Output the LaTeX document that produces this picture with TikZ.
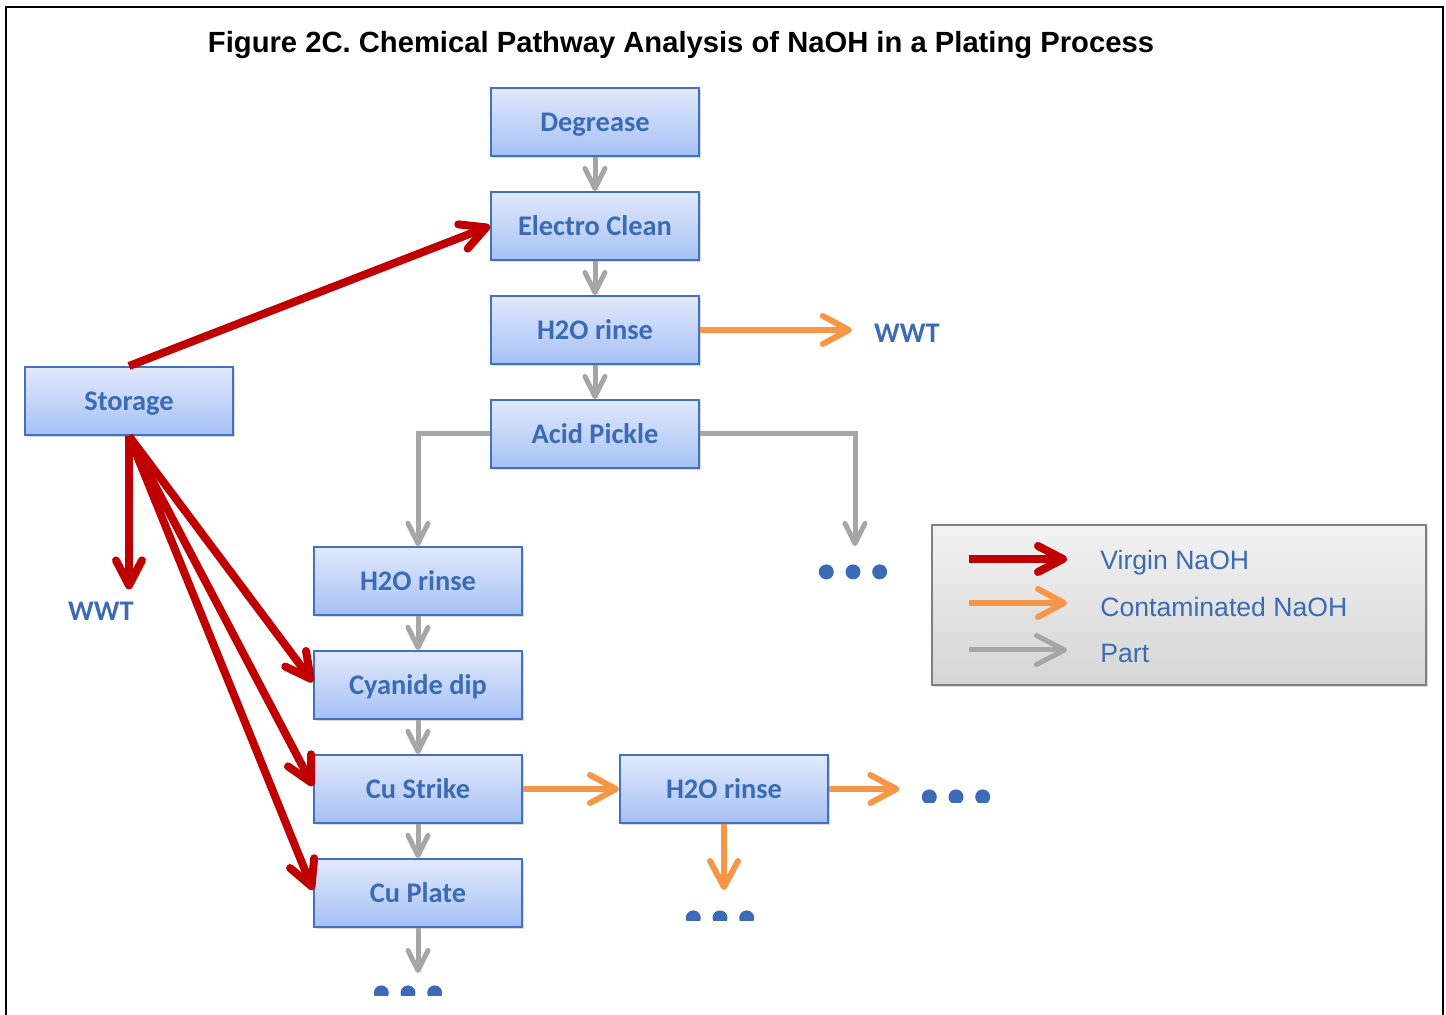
\documentclass[tikz,border=0pt]{standalone}
\usepackage{fontspec}
\setmainfont{Liberation Sans}
\newfontfamily\calibri{Carlito}
\usetikzlibrary{arrows.meta,shadows}
\definecolor{virgincol}{HTML}{C00000}
\definecolor{spentcol}{HTML}{F79646}
\definecolor{partcol}{HTML}{A6A6A6}
\definecolor{boxtop}{HTML}{E1E9FC}
\definecolor{boxbot}{HTML}{A6C1F5}
\definecolor{boxline}{HTML}{4370C0}
\definecolor{labelblue}{HTML}{3A6BB4}
\tikzset{every node/.style={inner sep=0pt},
  tank/.style={draw=boxline,line width=1pt,top color=boxtop,bottom color=boxbot,
    minimum width=104pt,minimum height=34pt,text height=9.2pt,text depth=0pt,
    drop shadow={shadow xshift=1.2pt,shadow yshift=-1.2pt,opacity=0.3},
    font=\calibri\bfseries\fontsize{14.2}{16}\selectfont,text=labelblue},
  waste/.style={font=\calibri\bfseries\fontsize{14.2}{16}\selectfont,text=labelblue},
  keytext/.style={font=\fontsize{13.3}{16}\selectfont,text=labelblue},
  dotrow/.style={minimum width=34.2pt,minimum height=#1,
    path picture={\foreach \i in {-1,0,1}
      \fill[labelblue] ([xshift=\i*13.35pt,yshift=-3.75pt]path picture bounding box.north) circle[radius=3.75pt];}},
  virgin/.style={draw=virgincol,line width=4pt,-{Straight Barb[length=12.5pt,width=13pt,round]}},
  spent/.style={draw=spentcol,line width=3pt,-{Straight Barb[length=13pt,width=14pt,round]}},
  partflow/.style={draw=partcol,line width=2.5pt,-{Straight Barb[length=10pt,width=10pt,round]}},
  partkey/.style={draw=partcol,line width=2.5pt,-{Straight Barb[length=14pt,width=14.5pt,round]}}
}

\begin{document}
\begin{tikzpicture}[x=0.5pt,y=-0.5pt]
  \useasboundingbox (0,0) rectangle (1446,1015);
  \draw[line width=1pt] (6,1015) -- (6,7) -- (1443,7) -- (1443,1015);
  \node[font=\bfseries\fontsize{14.6}{17}\selectfont] (title) at (681,45)
    {Figure 2C. Chemical Pathway Analysis of NaOH in a Plating Process};

  \node[tank] (degrease) at (595,122) {Degrease};
  \node[tank] (clean)    at (595,226) {Electro Clean};
  \node[tank] (rinseA)   at (595,330) {H2O rinse};
  \node[tank] (pickle)   at (595,434) {Acid Pickle};
  \node[tank] (store)    at (129,401) {Storage};
  \node[tank] (rinseB)   at (418,581) {H2O rinse};
  \node[tank] (cyanide)  at (418,685) {Cyanide dip};
  \node[tank] (strike)   at (418,789) {Cu Strike};
  \node[tank] (plate)    at (418,893) {Cu Plate};
  \node[tank] (rinseC)   at (724,789) {H2O rinse};

  \node[waste] (wwtA) at (907,333) {WWT};
  \node[waste] (wwtB) at (101,611) {WWT};

  \node[dotrow=10pt,anchor=north] (endP) at (853,564) {};
  \node[dotrow=6.4pt,anchor=north] (endR) at (956,789) {};
  \node[dotrow=5pt,anchor=north] (endD) at (720,910) {};
  \node[dotrow=5pt,anchor=north] (endE) at (408,985) {};
  \coordinate (pTurn) at (855,546);
  \coordinate (plateOut) at (418,973);

% part flow
\foreach \a/\b in {degrease/clean,clean/rinseA,rinseA/pickle,rinseB/cyanide,cyanide/strike,strike/plate}
  \draw[partflow] (\a) -- (\b);
  \draw[partflow] (pickle.west) -| (rinseB.north);
  \draw[partflow] (pickle.east) -| (pTurn);
  \draw[partflow] (plate.south) -- (plateOut);

% contaminated NaOH
  \draw[spent,shorten >=11pt] (rinseA.east) -- (rinseA.east -| wwtA.west);
  \draw[spent] (strike.east) -- (rinseC.west);
  \draw[spent,shorten >=11pt] (rinseC.east) -- (rinseC.east -| endR.west);
  \draw[spent,shorten >=10pt] (rinseC.south) -- (rinseC.south |- endD.north);

% virgin NaOH
  \draw[virgin] (store.north) -- (clean.west);
  \draw[virgin,shorten >=6pt] (store.south) -- (store.south |- wwtB.north);
\foreach \t in {cyanide,strike,plate}
  \draw[virgin] (store.south) -- ([yshift=1.5pt]\t.west);

% legend
  \node[draw=gray,line width=1pt,top color=gray!10,bottom color=gray!33,
    minimum width=247pt,minimum height=80pt,
    drop shadow={shadow xshift=1.2pt,shadow yshift=-1.2pt,opacity=0.3}] (legend) at (1179,605) {};
\foreach \kind/\txt/\ay/\ty in {virgin/Virgin NaOH/559/570,spent/Contaminated NaOH/603/617,partkey/Part/650/663} {
  \coordinate (k-\kind) at (969,\ay);
  \coordinate (e-\kind) at (1067,\ay);
  \node[keytext,anchor=base west] (t-\kind) at (1100,\ty) {\txt};
  \draw[\kind] (k-\kind) -- (e-\kind);
}
\end{tikzpicture}
\end{document}
